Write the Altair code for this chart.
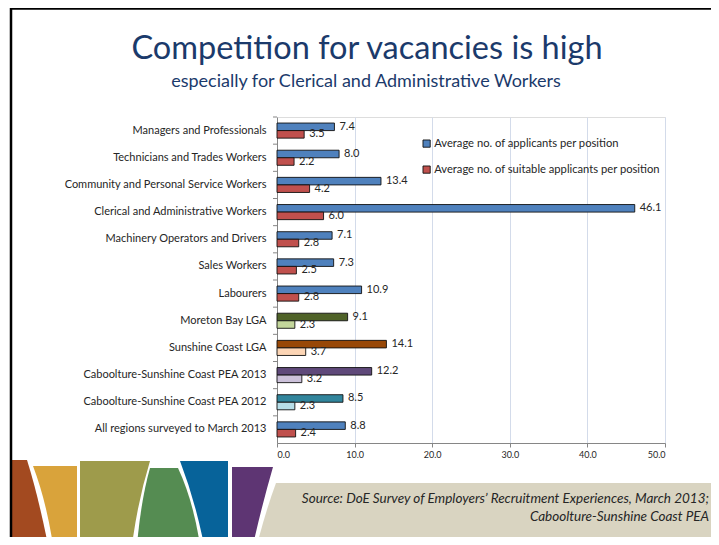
import altair as alt
import pandas as pd

# ---------------- data ----------------
categories = [
    "Managers and Professionals",
    "Technicians and Trades Workers",
    "Community and Personal Service Workers",
    "Clerical and Administrative Workers",
    "Machinery Operators and Drivers",
    "Sales Workers",
    "Labourers",
    "Moreton Bay LGA",
    "Sunshine Coast LGA",
    "Caboolture-Sunshine Coast PEA 2013",
    "Caboolture-Sunshine Coast PEA 2012",
    "All regions surveyed to March 2013",
]
applicants = [7.4, 8.0, 13.4, 46.1, 7.1, 7.3, 10.9, 9.1, 14.1, 12.2, 8.5, 8.8]
suitable = [3.5, 2.2, 4.2, 6.0, 2.8, 2.5, 2.8, 2.3, 3.7, 3.2, 2.3, 2.4]
groups = ["default"] * 7 + ["Moreton", "Sunshine", "PEA2013", "PEA2012", "default"]
series_names = [
    "Average no. of applicants per position",
    "Average no. of suitable applicants per position",
]
x_ticks = [0, 5, 10, 15, 20, 25, 30, 35, 40, 45, 50]

title_text = "Competition for vacancies is high"
subtitle_text = "especially for Clerical and Administrative Workers"
source_line1 = "Source: DoE Survey of Employers\u2019 Recruitment Experiences, March 2013;"
source_line2 = "Caboolture-Sunshine Coast PEA"

# ---------------- styles ----------------
palette = {
    ("default", 0): "#4F81BD", ("default", 1): "#C0504D",
    ("Moreton", 0): "#4F6228", ("Moreton", 1): "#C3D69B",
    ("Sunshine", 0): "#984807", ("Sunshine", 1): "#FCD5B5",
    ("PEA2013", 0): "#5F497A", ("PEA2013", 1): "#CCC1DA",
    ("PEA2012", 0): "#31859C", ("PEA2012", 1): "#B7DEE8",
}
FONT = "Lato"
NAVY = "#1B3A6B"
TXT = "#262626"

rows = []
for c, g, a, s in zip(categories, groups, applicants, suitable):
    for i, v in enumerate([a, s]):
        key = series_names[i] if g == "default" else f"{g}|{i}"
        rows.append({"cat": c, "series": series_names[i], "value": v, "key": key})
df = pd.DataFrame(rows)

color_domain, color_range = [], []
for (g, i), col in palette.items():
    key = series_names[i] if g == "default" else f"{g}|{i}"
    color_domain.append(key)
    color_range.append(col)

W, H = 388, 326
OX, OY = 277, 117  # page position of plot origin
TOTAL_W, TOTAL_H = 703, 529  # whole chart (page minus 8px margins)

y_axis = alt.Axis(title=None, ticks=False, labelPadding=11, labelFontSize=11,
                  labelColor=TXT, labelFont=FONT, domainColor="#868686",
                  domainWidth=1, labelLimit=300)
y_enc = alt.Y("cat:N", sort=categories, axis=y_axis,
              scale=alt.Scale(paddingInner=0, paddingOuter=0))
yoff_enc = alt.YOffset("series:N", sort=series_names,
                       scale=alt.Scale(paddingInner=0, paddingOuter=0.8))
x_enc = alt.X("value:Q", scale=alt.Scale(domain=[0, 50], nice=False),
              axis=alt.Axis(title=None, values=x_ticks, format=".1f",
                            grid=True, gridColor="#D3DBEA", gridWidth=1,
                            domainColor="#868686", tickColor="#868686",
                            tickSize=4, labelFontSize=9, labelColor=TXT,
                            labelFont=FONT, labelPadding=3))

bars = alt.Chart(df).mark_bar(stroke="#111111", strokeWidth=0.9).encode(
    x=x_enc, y=y_enc, yOffset=yoff_enc,
    color=alt.Color("key:N", scale=alt.Scale(domain=color_domain, range=color_range),
                    legend=alt.Legend(values=series_names, orient="none",
                                      legendX=144, legendY=21, title=None,
                                      symbolType="square", symbolSize=52,
                                      symbolStrokeColor="#111111",
                                      symbolStrokeWidth=0.9,
                                      labelFontSize=11.2, labelFont=FONT,
                                      labelColor=TXT, rowPadding=13,
                                      labelOffset=2, padding=0, labelLimit=400)),
)

labels = alt.Chart(df).mark_text(align="left", baseline="middle", dx=5,
                                 fontSize=11, font=FONT, color=TXT).encode(
    x=alt.X("value:Q"), y=y_enc, yOffset=yoff_enc,
    text=alt.Text("value:Q", format=".1f"),
)

df_cat = pd.DataFrame({"cat": categories})
yticks = alt.Chart(df_cat).mark_rule(color="#868686", strokeWidth=1).encode(
    y=alt.Y("cat:N", sort=categories, axis=y_axis, bandPosition=0,
            scale=alt.Scale(paddingInner=0, paddingOuter=0)),
    x=alt.value(-4), x2=alt.value(0),
)

one = pd.DataFrame({"d": [0]})

# decorative slide shapes (page pixel paths)
deco_shapes = [
    ("M12,460 L27,460 Q38,495 48,545 L12,545 Z", "#A34A20"),
    ("M33,466 L77,466 L77,545 L53,545 Q46,500 33,466 Z", "#D9A33B"),
    ("M80,461 L150,461 Q138,500 132,545 L80,545 Z", "#9E9B4B"),
    ("M150,468 L178,468 Q193,500 200,545 L137,545 Q141,500 150,468 Z", "#558C52"),
    ("M180,461 L228,461 L228,545 L204,545 Q195,500 180,461 Z", "#07639A"),
    ("M232,467 L273,467 Q262,505 253,545 L232,545 Z", "#5E3573"),
    ("M276,483 L740,483 L740,560 L256,560 L257,545 Q266,510 276,483 Z", "#D9D4C1"),
]
deco_layers = []
for path, col in deco_shapes:
    deco_layers.append(
        alt.Chart(one).mark_point(shape=path, size=4, filled=True, color=col,
                                  opacity=1, strokeWidth=0).encode(
            x=alt.value(-OX), y=alt.value(-OY))
    )

frame_left = alt.Chart(one).mark_rule(color="black", strokeWidth=2.5).encode(
    x=alt.value(11 - OX), y=alt.value(8 - OY), y2=alt.value(545 - OY))
frame_top = alt.Chart(one).mark_rule(color="black", strokeWidth=2.5).encode(
    x=alt.value(10 - OX), x2=alt.value(719 - OX), y=alt.value(8.5 - OY))

title = alt.Chart(one).mark_text(text=title_text, font=FONT, fontSize=32.5,
                                 color=NAVY, align="center",
                                 baseline="alphabetic").encode(
    x=alt.value(367 - OX), y=alt.value(59 - OY))
subtitle = alt.Chart(one).mark_text(text=subtitle_text, font=FONT, fontSize=18,
                                    color=NAVY, align="center",
                                    baseline="alphabetic").encode(
    x=alt.value(366 - OX), y=alt.value(87 - OY))

src1 = alt.Chart(one).mark_text(text=source_line1, font=FONT, fontSize=13.5,
                                fontStyle="italic", color=TXT, align="right",
                                baseline="alphabetic").encode(
    x=alt.value(709 - OX), y=alt.value(503 - OY))
src2 = alt.Chart(one).mark_text(text=source_line2, font=FONT, fontSize=13.5,
                                fontStyle="italic", color=TXT, align="right",
                                baseline="alphabetic").encode(
    x=alt.value(709 - OX), y=alt.value(521 - OY))

chart = alt.layer(
    *deco_layers, frame_left, frame_top, title, subtitle, src1, src2,
    bars, labels, yticks,
).properties(
    width=W, height=H,
    padding={"left": OX - 8, "top": OY - 8,
             "right": TOTAL_W - (OX - 8) - W,
             "bottom": TOTAL_H - (OY - 8) - H},
    autosize=alt.AutoSizeParams(type="none"),
).configure_view(strokeWidth=0).configure(font=FONT)

chart.save("out.html", embed_options={"renderer": "svg", "actions": False})
